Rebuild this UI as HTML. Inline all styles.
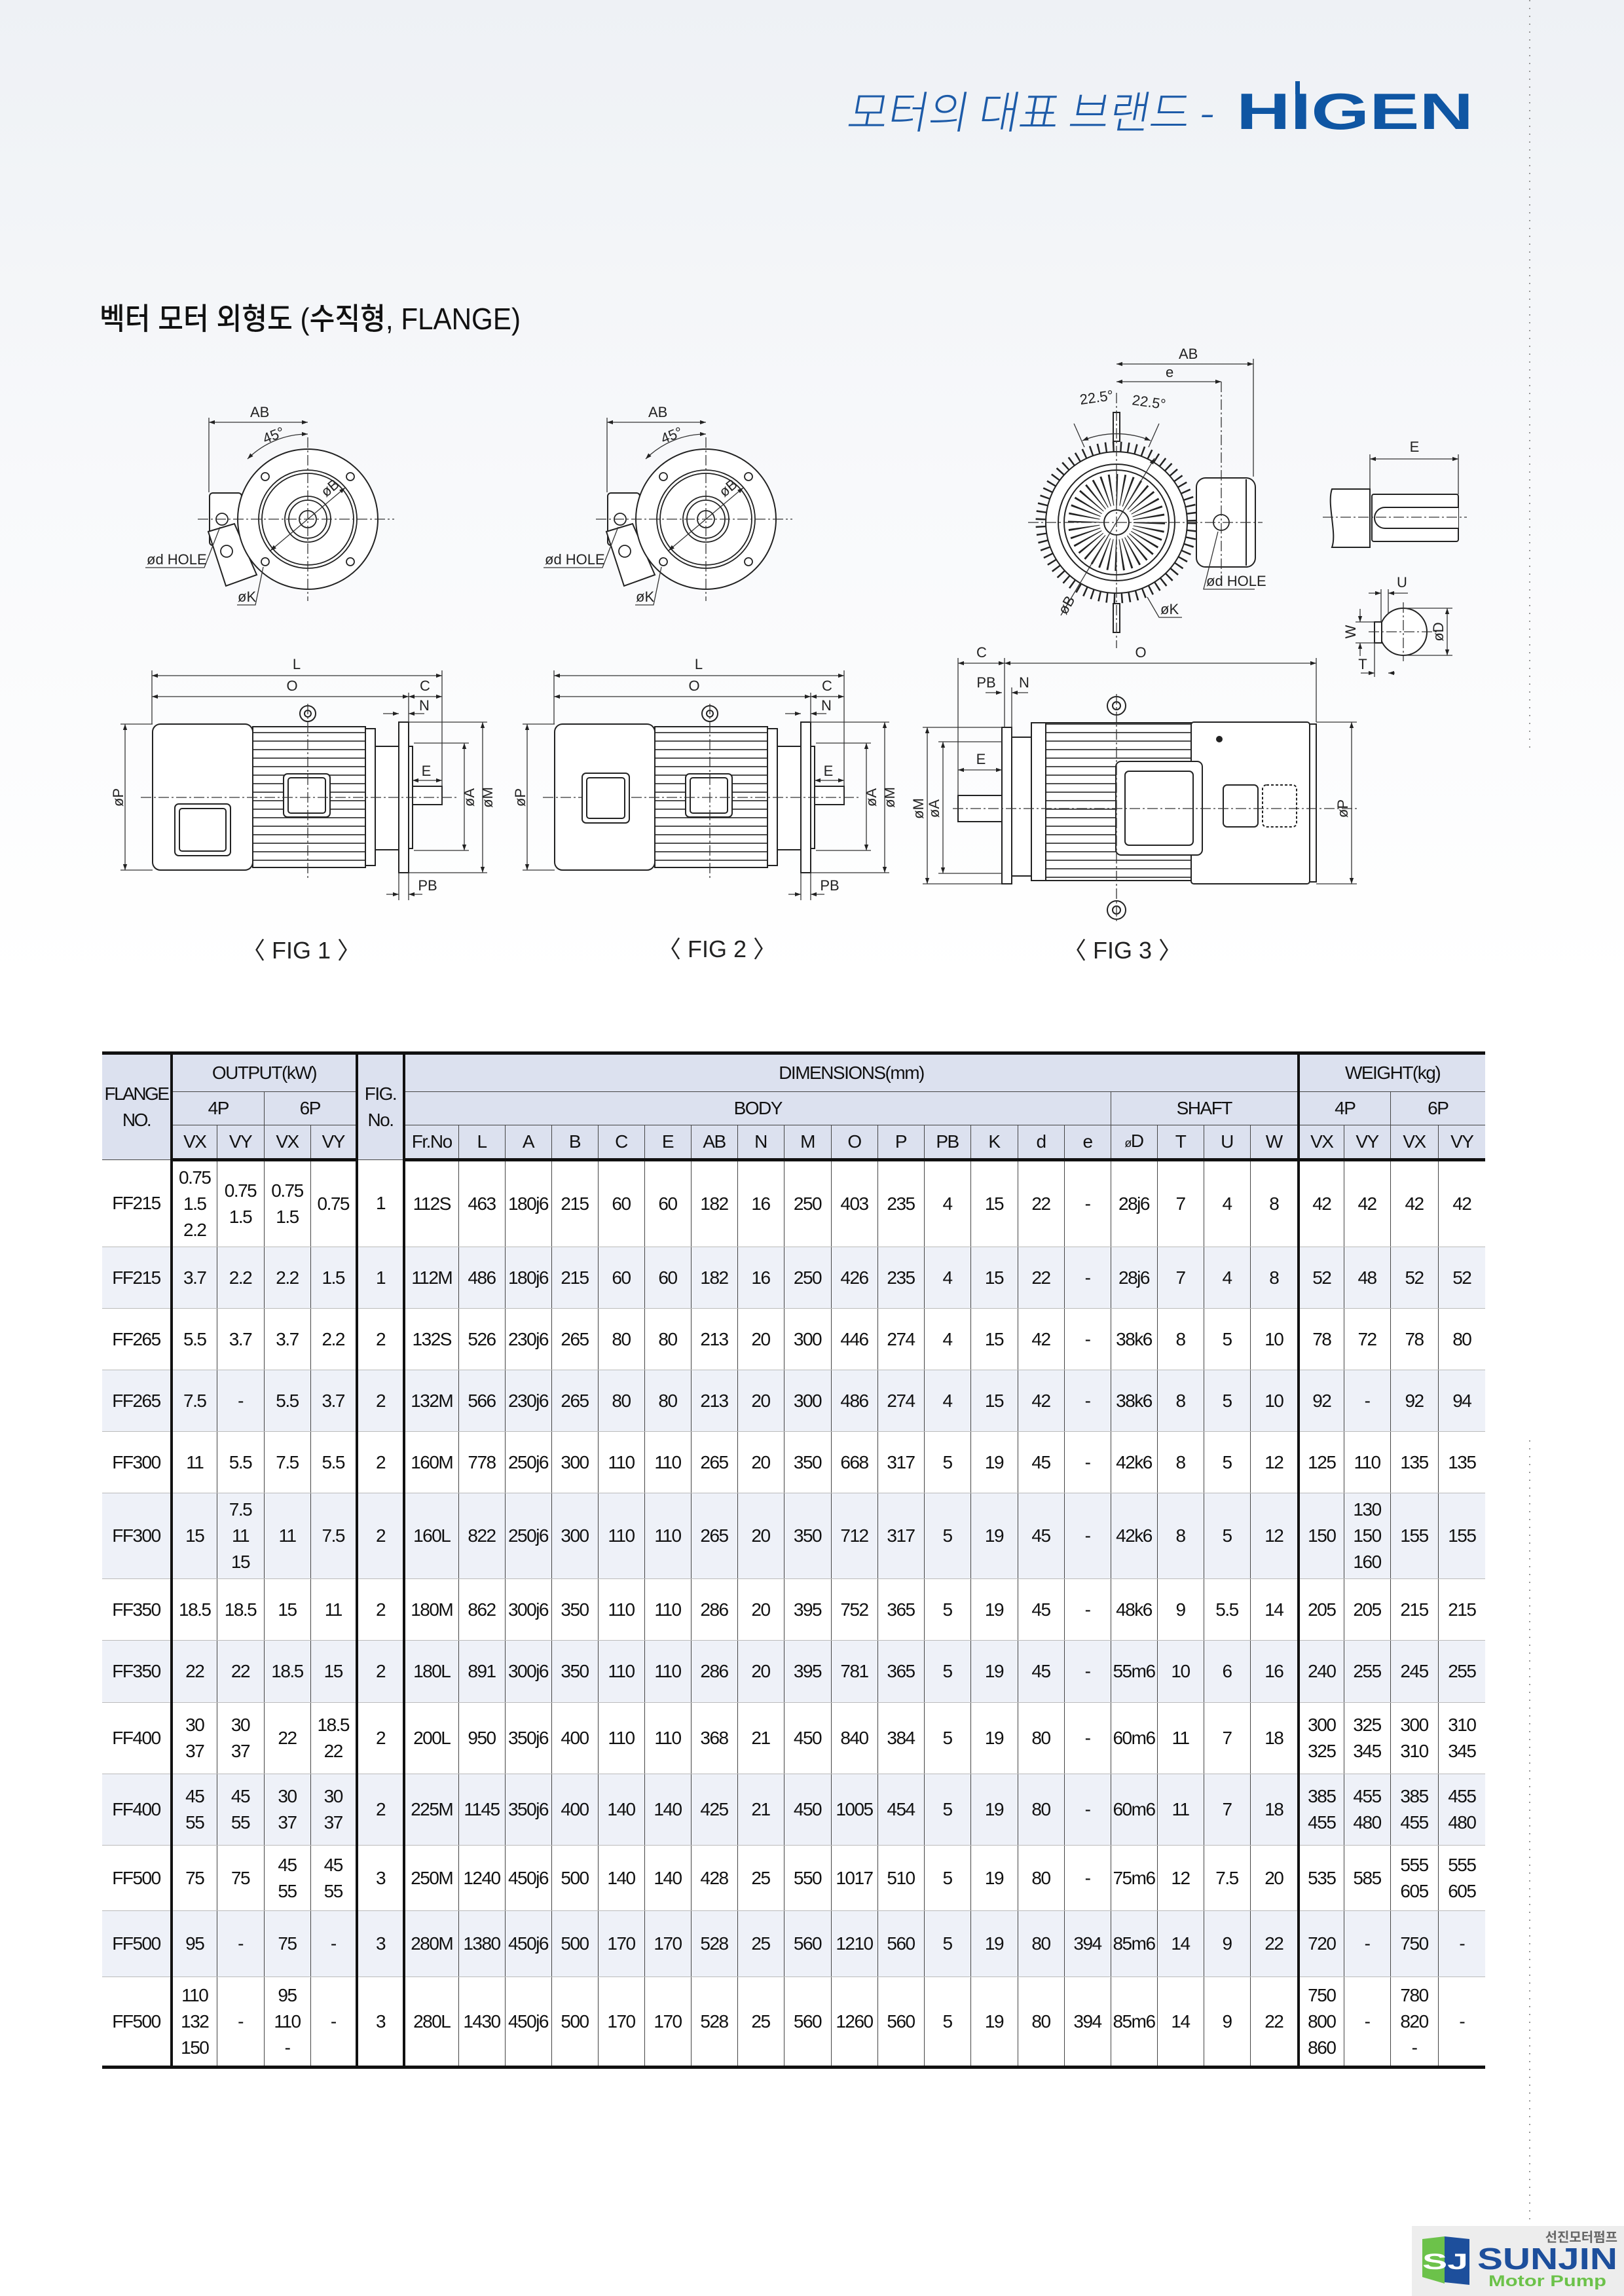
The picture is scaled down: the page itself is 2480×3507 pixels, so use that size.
<!DOCTYPE html>
<html><head><meta charset="utf-8">
<style>
html,body{margin:0;padding:0;background:#fff;}
body{width:2480px;height:3507px;position:relative;overflow:hidden;font-family:"Liberation Sans",sans-serif;}
svg{position:absolute;left:0;top:0;}
table.t{position:absolute;left:156px;top:1606px;width:2112px;border-collapse:collapse;table-layout:fixed;
font-family:"Liberation Sans Narrow","Liberation Sans",sans-serif;font-size:28px;letter-spacing:-1.5px;color:#111;text-align:center;}
.t td{border-left:1.5px solid #444;border-right:1.5px solid #444;border-top:1px solid #bbb;border-bottom:1px solid #bbb;padding:0;line-height:40px;vertical-align:middle;overflow:visible;white-space:nowrap;}
.t tr.h td{background:#dce1ef;border-top:1.5px solid #444;border-bottom:1.5px solid #444;}
.t tr.h1 td{border-top:5px solid #111;}
.t tr.h3 td,.t td.hb{border-bottom:5px solid #111;}
.t tr.last td{border-bottom:5px solid #111;}
.t tr.z td{background:#eef1f8;}
.t td.L{border-left:0;}
.t td.R{border-right:0;}
.t td.tk{border-right:4px solid #111;}
</style></head>
<body>
<svg width="2480" height="3507" viewBox="0 0 2480 3507" xmlns="http://www.w3.org/2000/svg">
<defs>
<linearGradient id="bg" x1="0" y1="0" x2="0" y2="1">
<stop offset="0" stop-color="#eef1f5"/><stop offset="0.5" stop-color="#f8f9fb"/><stop offset="1" stop-color="#ffffff"/>
</linearGradient>
<marker id="ar" viewBox="0 0 10 10" refX="10" refY="5" markerWidth="13" markerHeight="9" markerUnits="userSpaceOnUse" orient="auto-start-reverse"><path d="M0,1.5 L10,5 L0,8.5z" fill="#222"/></marker>
<pattern id="fins" width="10" height="13" patternUnits="userSpaceOnUse"><rect width="10" height="13" fill="#fff"/><line x1="0" y1="1" x2="10" y2="1" stroke="#222" stroke-width="1.6"/></pattern>
</defs>
<rect x="0" y="0" width="2480" height="1500" fill="url(#bg)"/>
<line x1="2336" y1="0" x2="2336" y2="1150" stroke="#999" stroke-width="2" stroke-dasharray="2 10"/>
<line x1="2336" y1="2200" x2="2336" y2="3420" stroke="#999" stroke-width="2" stroke-dasharray="2 10"/>

<!-- title -->
<text x="1292" y="196" font-family="'Noto Sans CJK KR',sans-serif" font-weight="300" font-size="68" fill="#1d5ba8" textLength="560" lengthAdjust="spacingAndGlyphs" transform="skewX(-10) translate(34,0)">모터의 대표 브랜드 -</text>
<text x="1888" y="197" font-family="'Liberation Sans',sans-serif" font-weight="bold" font-size="78" fill="#0f56a3" textLength="362" lengthAdjust="spacingAndGlyphs">HIGEN</text>
<rect x="1978" y="124" width="7" height="20" fill="#0f56a3"/>

<text x="152" y="503" font-family="'Liberation Sans','Noto Sans CJK KR',sans-serif" font-size="46" font-weight="500" fill="#111" textLength="643" lengthAdjust="spacingAndGlyphs">벡터 모터 외형도 (수직형, FLANGE)</text>

<g font-family="'Liberation Sans','Noto Sans CJK KR',sans-serif" font-size="36" fill="#222" text-anchor="middle">
<text x="460" y="1464">〈 FIG 1 〉</text>
<text x="1095" y="1462">〈 FIG 2 〉</text>
<text x="1714" y="1464">〈 FIG 3 〉</text>
</g>

<!-- ===== FIG1 END VIEW ===== -->
<g id="ev1">
<g stroke="#222" stroke-width="2" fill="#fff">
<rect x="320" y="753" width="49" height="80" rx="5"/>
<path d="M318,812 L358,800 L392,878 L345,895 Z"/>
<circle cx="470" cy="793" r="107"/>
</g>
<g stroke="#222" stroke-width="1.8" fill="none">
<circle cx="470" cy="793" r="75"/><circle cx="470" cy="793" r="70"/>
<circle cx="470" cy="793" r="35"/><circle cx="470" cy="793" r="29"/><circle cx="470" cy="793" r="13"/>
<circle cx="405" cy="728" r="6"/><circle cx="535" cy="728" r="6"/><circle cx="405" cy="858" r="6"/><circle cx="535" cy="858" r="6"/>
<circle cx="339" cy="793" r="9"/><circle cx="346" cy="842" r="9"/>
</g>
<g stroke="#333" stroke-width="1.3" fill="none" stroke-dasharray="16 4 3 4">
<line x1="302" y1="793" x2="602" y2="793"/><line x1="470" y1="668" x2="470" y2="918"/>
</g>
<g stroke="#333" stroke-width="1.3" fill="none">
<line x1="319" y1="645" x2="470" y2="645" marker-start="url(#ar)" marker-end="url(#ar)"/>
<line x1="319" y1="638" x2="319" y2="752"/>
<path d="M378,701 A130,130 0 0 1 470,663" marker-start="url(#ar)" marker-end="url(#ar)"/>
<line x1="413" y1="841" x2="527" y2="745" marker-start="url(#ar)" marker-end="url(#ar)"/>
<polyline points="222,867 312,867 336,805"/>
<polyline points="362,924 390,924 402,866"/>
</g>
</g>
<g font-family="'Liberation Sans',sans-serif" font-size="22" fill="#222">
<text x="382" y="637">AB</text>
<text x="405" y="678" transform="rotate(-22 405 678)">45°</text>
<text x="498" y="760" transform="rotate(-40 498 760)">øB</text>
<text x="224" y="862">ød HOLE</text>
<text x="363" y="919">øK</text>
</g>

<!-- ===== FIG2 END VIEW ===== -->
<use href="#ev1" x="608" y="0"/>
<g font-family="'Liberation Sans',sans-serif" font-size="22" fill="#222">
<text x="990" y="637">AB</text>
<text x="1013" y="678" transform="rotate(-22 1013 678)">45°</text>
<text x="1106" y="760" transform="rotate(-40 1106 760)">øB</text>
<text x="832" y="862">ød HOLE</text>
<text x="971" y="919">øK</text>
</g>

<!-- ===== FIG1 SIDE VIEW ===== -->
<g id="sv1">
<g stroke="#222" stroke-width="2" fill="#fff">
<rect x="233" y="1106" width="153" height="223" rx="12"/>
<rect x="386" y="1110" width="172" height="215" fill="url(#fins)"/>
<rect x="558" y="1113" width="15" height="209"/>
<rect x="573" y="1140" width="36" height="158"/>
<rect x="609" y="1103" width="15" height="230"/>
<rect x="624" y="1140" width="6" height="156"/>
<rect x="630" y="1201" width="45" height="28"/>
<rect x="433" y="1182" width="71" height="66" rx="6"/>
<rect x="440" y="1188" width="57" height="54" rx="4"/>
<circle cx="470" cy="1090" r="12"/><circle cx="470" cy="1090" r="5"/>
</g>
<g stroke="#333" stroke-width="1.3" fill="none" stroke-dasharray="16 4 3 4">
<line x1="215" y1="1218" x2="700" y2="1218"/><line x1="470" y1="1075" x2="470" y2="1345"/>
</g>
<g stroke="#333" stroke-width="1.3" fill="none">
<line x1="232" y1="1032" x2="675" y2="1032" marker-start="url(#ar)" marker-end="url(#ar)"/>
<line x1="232" y1="1064" x2="624" y2="1064" marker-start="url(#ar)" marker-end="url(#ar)"/>
<line x1="624" y1="1064" x2="675" y2="1064" marker-start="url(#ar)" marker-end="url(#ar)"/>
<line x1="232" y1="1024" x2="232" y2="1106"/><line x1="675" y1="1024" x2="675" y2="1229"/><line x1="624" y1="1058" x2="624" y2="1103"/>
<line x1="585" y1="1090" x2="609" y2="1090" marker-end="url(#ar)"/><line x1="648" y1="1090" x2="624" y2="1090" marker-end="url(#ar)"/>
<line x1="630" y1="1192" x2="675" y2="1192" marker-start="url(#ar)" marker-end="url(#ar)"/>
<line x1="590" y1="1366" x2="609" y2="1366" marker-end="url(#ar)"/><line x1="645" y1="1366" x2="624" y2="1366" marker-end="url(#ar)"/>
<line x1="609" y1="1333" x2="609" y2="1375"/><line x1="624" y1="1333" x2="624" y2="1375"/>
<line x1="191" y1="1106" x2="191" y2="1329" marker-start="url(#ar)" marker-end="url(#ar)"/>
<line x1="184" y1="1106" x2="233" y2="1106"/><line x1="184" y1="1329" x2="233" y2="1329"/>
<line x1="709" y1="1135" x2="709" y2="1299" marker-start="url(#ar)" marker-end="url(#ar)"/>
<line x1="632" y1="1135" x2="716" y2="1135"/><line x1="632" y1="1299" x2="716" y2="1299"/>
<line x1="737" y1="1103" x2="737" y2="1333" marker-start="url(#ar)" marker-end="url(#ar)"/>
<line x1="624" y1="1103" x2="744" y2="1103"/><line x1="624" y1="1333" x2="744" y2="1333"/>
</g>
</g>
<g stroke="#222" stroke-width="2" fill="#fff">
<rect x="267" y="1228" width="85" height="79" rx="6"/><rect x="274" y="1235" width="71" height="65" rx="4"/>
</g>
<g font-family="'Liberation Sans',sans-serif" font-size="22" fill="#222" text-anchor="middle">
<text x="453" y="1022">L</text><text x="446" y="1055">O</text><text x="649" y="1055">C</text>
<text x="648" y="1085">N</text><text x="651" y="1185">E</text><text x="653" y="1360">PB</text>
<text x="0" y="0" transform="translate(188,1218) rotate(-90)">øP</text>
<text x="0" y="0" transform="translate(724,1218) rotate(-90)">øA</text>
<text x="0" y="0" transform="translate(752,1218) rotate(-90)">øM</text>
</g>

<!-- ===== FIG2 SIDE VIEW ===== -->
<use href="#sv1" x="614" y="0"/>
<g stroke="#222" stroke-width="2" fill="#fff">
<rect x="889" y="1181" width="72" height="76" rx="6"/><rect x="896" y="1188" width="58" height="62" rx="4"/>
</g>
<g font-family="'Liberation Sans',sans-serif" font-size="22" fill="#222" text-anchor="middle">
<text x="1067" y="1022">L</text><text x="1060" y="1055">O</text><text x="1263" y="1055">C</text>
<text x="1262" y="1085">N</text><text x="1265" y="1185">E</text><text x="1267" y="1360">PB</text>
<text x="0" y="0" transform="translate(802,1218) rotate(-90)">øP</text>
<text x="0" y="0" transform="translate(1338,1218) rotate(-90)">øA</text>
<text x="0" y="0" transform="translate(1366,1218) rotate(-90)">øM</text>
</g>

<!-- ===== FIG3 END VIEW ===== -->
<g stroke="#222" fill="none">
<circle cx="1705" cy="798" r="116" stroke-width="15" stroke-dasharray="2.5 9"/>
<rect x="1700" y="630" width="10" height="44" fill="#fff" stroke-width="2"/>
<rect x="1700" y="922" width="10" height="44" fill="#fff" stroke-width="2"/>
<rect x="1827" y="730" width="90" height="136" rx="14" fill="#fff" stroke-width="2"/>
<line x1="1903" y1="732" x2="1903" y2="864" stroke-width="2"/>
<circle cx="1705" cy="798" r="108" fill="#fff" stroke-width="2"/>
<circle cx="1705" cy="798" r="89" stroke-width="2"/>
<circle cx="1705" cy="798" r="80" stroke-width="2"/>
<circle cx="1705" cy="798" r="50" stroke-width="48" stroke-dasharray="2 6.7"/>
<circle cx="1705" cy="798" r="19" fill="#fff" stroke-width="2"/>
<circle cx="1865" cy="798" r="12" stroke-width="1.8"/>
</g>
<g stroke="#333" stroke-width="1.3" fill="none" stroke-dasharray="16 4 3 4">
<line x1="1570" y1="798" x2="1928" y2="798"/><line x1="1705" y1="600" x2="1705" y2="990"/>
<line x1="1865" y1="583" x2="1865" y2="893"/>
</g>
<g stroke="#333" stroke-width="1.3" fill="none">
<line x1="1705" y1="556" x2="1914" y2="556" marker-start="url(#ar)" marker-end="url(#ar)"/>
<line x1="1705" y1="583" x2="1865" y2="583" marker-start="url(#ar)" marker-end="url(#ar)"/>
<line x1="1914" y1="548" x2="1914" y2="728"/>
<path d="M1653,673 A135,135 0 0 1 1757,673" marker-start="url(#ar)" marker-end="url(#ar)"/>
<line x1="1640" y1="647" x2="1656" y2="683"/><line x1="1770" y1="647" x2="1754" y2="683"/>
<line x1="1620" y1="940" x2="1763" y2="700" marker-end="url(#ar)"/>
<polyline points="1916,900 1838,900 1860,812"/>
<polyline points="1805,943 1770,943 1752,912"/>
</g>
<g font-family="'Liberation Sans',sans-serif" font-size="22" fill="#222">
<text x="1800" y="548">AB</text><text x="1780" y="576">e</text>
<text x="1650" y="618" transform="rotate(-8 1650 618)">22.5°</text>
<text x="1728" y="618" transform="rotate(8 1728 618)">22.5°</text>
<text x="1842" y="895">ød HOLE</text><text x="1772" y="938">øK</text>
<text x="0" y="0" transform="translate(1628,940) rotate(-60)">øB</text>
</g>

<!-- shaft detail -->
<g stroke="#222" stroke-width="2" fill="#fff">
<path d="M2034,747 L2092,747 L2092,836 L2034,836 C2042,815 2026,770 2034,747 Z"/>
<rect x="2095" y="755" width="132" height="72" rx="3"/>
<path d="M2227,775 L2115,775 A16,16 0 0 0 2115,807 L2227,807"/>
<circle cx="2143" cy="965" r="36"/>
<rect x="2099" y="950" width="11" height="32"/>
</g>
<g stroke="#333" stroke-width="1.3" fill="none" stroke-dasharray="16 4 3 4">
<line x1="2020" y1="790" x2="2240" y2="790"/>
<line x1="2090" y1="965" x2="2195" y2="965"/><line x1="2143" y1="920" x2="2143" y2="1010"/>
</g>
<g stroke="#333" stroke-width="1.3" fill="none">
<line x1="2092" y1="701" x2="2227" y2="701" marker-start="url(#ar)" marker-end="url(#ar)"/>
<line x1="2092" y1="694" x2="2092" y2="747"/><line x1="2227" y1="694" x2="2227" y2="755"/>
<line x1="2210" y1="929" x2="2210" y2="1001" marker-start="url(#ar)" marker-end="url(#ar)"/>
<line x1="2143" y1="929" x2="2218" y2="929"/><line x1="2143" y1="1001" x2="2218" y2="1001"/>
<line x1="2090" y1="906" x2="2109" y2="906" marker-end="url(#ar)"/><line x1="2150" y1="906" x2="2120" y2="906" marker-end="url(#ar)"/>
<line x1="2109" y1="900" x2="2109" y2="950"/><line x1="2120" y1="900" x2="2120" y2="938"/>
<line x1="2077" y1="930" x2="2077" y2="950" marker-end="url(#ar)"/><line x1="2077" y1="1002" x2="2077" y2="982" marker-end="url(#ar)"/>
<line x1="2070" y1="950" x2="2099" y2="950"/><line x1="2070" y1="982" x2="2099" y2="982"/>
<line x1="2078" y1="1028" x2="2099" y2="1028" marker-end="url(#ar)"/><line x1="2130" y1="1028" x2="2120" y2="1028" marker-end="url(#ar)"/>
<line x1="2099" y1="982" x2="2099" y2="1034"/>
</g>
<g font-family="'Liberation Sans',sans-serif" font-size="22" fill="#222" text-anchor="middle">
<text x="2160" y="690">E</text><text x="2141" y="897">U</text><text x="2081" y="1022">T</text>
<text x="0" y="0" transform="translate(2070,965) rotate(-90)">W</text>
<text x="0" y="0" transform="translate(2204,965) rotate(-90)">øD</text>
</g>

<!-- ===== FIG3 SIDE VIEW ===== -->
<g stroke="#222" stroke-width="2" fill="#fff">
<circle cx="1705" cy="1078" r="14"/><circle cx="1705" cy="1078" r="6"/>
<circle cx="1705" cy="1390" r="14"/><circle cx="1705" cy="1390" r="6"/>
<rect x="1530" y="1111" width="15" height="239"/>
<rect x="1545" y="1126" width="30" height="212"/>
<rect x="1575" y="1104" width="22" height="241"/>
<rect x="1597" y="1104" width="222" height="241" fill="url(#fins)"/>
<rect x="1819" y="1103" width="181" height="247" rx="4"/>
<rect x="2000" y="1106" width="10" height="241"/>
<rect x="1463" y="1215" width="67" height="40"/>
<rect x="1704" y="1163" width="132" height="143" rx="8"/>
<rect x="1718" y="1178" width="104" height="113" rx="6"/>
<rect x="1868" y="1199" width="53" height="64" rx="6"/>
<rect x="1928" y="1199" width="52" height="64" rx="6" stroke-dasharray="4 3"/>
<circle cx="1862" cy="1129" r="4" fill="#222"/>
</g>
<g stroke="#333" stroke-width="1.3" fill="none" stroke-dasharray="16 4 3 4">
<line x1="1455" y1="1235" x2="2075" y2="1235"/><line x1="1705" y1="1060" x2="1705" y2="1410"/>
</g>
<g stroke="#333" stroke-width="1.3" fill="none">
<line x1="1463" y1="1013" x2="1534" y2="1013" marker-start="url(#ar)" marker-end="url(#ar)"/>
<line x1="1534" y1="1013" x2="2010" y2="1013" marker-start="url(#ar)" marker-end="url(#ar)"/>
<line x1="1463" y1="1005" x2="1463" y2="1215"/><line x1="1534" y1="1005" x2="1534" y2="1111"/><line x1="2010" y1="1005" x2="2010" y2="1103"/>
<line x1="1505" y1="1058" x2="1530" y2="1058" marker-end="url(#ar)"/><line x1="1570" y1="1058" x2="1545" y2="1058" marker-end="url(#ar)"/>
<line x1="1545" y1="1050" x2="1545" y2="1126"/>
<line x1="1463" y1="1176" x2="1530" y2="1176" marker-start="url(#ar)" marker-end="url(#ar)"/>
<line x1="1416" y1="1111" x2="1416" y2="1350" marker-start="url(#ar)" marker-end="url(#ar)"/>
<line x1="1409" y1="1111" x2="1530" y2="1111"/><line x1="1409" y1="1350" x2="1530" y2="1350"/>
<line x1="1440" y1="1133" x2="1440" y2="1334" marker-start="url(#ar)" marker-end="url(#ar)"/>
<line x1="1433" y1="1133" x2="1530" y2="1133"/><line x1="1433" y1="1334" x2="1530" y2="1334"/>
<line x1="2064" y1="1103" x2="2064" y2="1350" marker-start="url(#ar)" marker-end="url(#ar)"/>
<line x1="2010" y1="1103" x2="2072" y2="1103"/><line x1="2010" y1="1350" x2="2072" y2="1350"/>
</g>
<g font-family="'Liberation Sans',sans-serif" font-size="22" fill="#222" text-anchor="middle">
<text x="1499" y="1004">C</text><text x="1742" y="1004">O</text>
<text x="1506" y="1050">PB</text><text x="1564" y="1050">N</text><text x="1498" y="1167">E</text>
<text x="0" y="0" transform="translate(1410,1235) rotate(-90)">øM</text>
<text x="0" y="0" transform="translate(1434,1235) rotate(-90)">øA</text>
<text x="0" y="0" transform="translate(2058,1235) rotate(-90)">øP</text>
</g>

<!-- SUNJIN logo -->
<rect x="2156" y="3400" width="324" height="107" fill="#ededed"/>
<path d="M2172,3420 L2206,3416 L2206,3488 L2172,3478 Z" fill="#6cc24a"/>
<path d="M2206,3416 L2244,3420 L2244,3490 L2206,3486 Z" fill="#1d4f9c"/>
<text x="2172" y="3466" font-family="'Liberation Sans',sans-serif" font-weight="bold" font-size="34" fill="#fff" textLength="70" lengthAdjust="spacingAndGlyphs">SJ</text>
<text x="2470" y="3424" text-anchor="end" font-family="'Noto Sans CJK KR',sans-serif" font-weight="bold" font-size="20" fill="#666">선진모터펌프</text>
<text x="2256" y="3466" font-family="'Liberation Sans',sans-serif" font-weight="bold" font-size="46" fill="#1d4f9c" textLength="214" lengthAdjust="spacingAndGlyphs">SUNJIN</text>
<text x="2273" y="3492" font-family="'Liberation Sans',sans-serif" font-weight="bold" font-size="24" fill="#6cc24a" textLength="180" lengthAdjust="spacingAndGlyphs">Motor Pump</text>
</svg>

<table class="t">
<colgroup>
<col style="width:106px"><col style="width:69px"><col style="width:72px"><col style="width:71px"><col style="width:71px">
<col style="width:72px">
<col style="width:83px"><col style="width:71px"><col style="width:71px"><col style="width:71px"><col style="width:71px"><col style="width:71px"><col style="width:71px"><col style="width:71px"><col style="width:72px"><col style="width:71px"><col style="width:71px"><col style="width:71px"><col style="width:72px"><col style="width:71px"><col style="width:71px">
<col style="width:71px"><col style="width:71px"><col style="width:71px"><col style="width:74px">
<col style="width:69px"><col style="width:71px"><col style="width:73px"><col style="width:72px">
</colgroup>
<tr class="h h1" style="height:59px">
<td class="L tk hb" rowspan="3" style="letter-spacing:-2.5px">FLANGE<br>NO.</td>
<td colspan="4" class="tk">OUTPUT(kW)</td>
<td rowspan="3" class="tk hb">FIG.<br>No.</td>
<td colspan="19" class="tk">DIMENSIONS(mm)</td>
<td colspan="4" class="R">WEIGHT(kg)</td>
</tr>
<tr class="h" style="height:51px">
<td colspan="2">4P</td><td colspan="2" class="tk">6P</td>
<td colspan="15">BODY</td><td colspan="4" class="tk">SHAFT</td>
<td colspan="2">4P</td><td colspan="2" class="R">6P</td>
</tr>
<tr class="h h3" style="height:53px">
<td>VX</td><td>VY</td><td>VX</td><td class="tk">VY</td>
<td>Fr.No</td><td>L</td><td>A</td><td>B</td><td>C</td><td>E</td><td>AB</td><td>N</td><td>M</td><td>O</td><td>P</td><td>PB</td><td>K</td><td>d</td><td>e</td>
<td><small style="font-size:18px">ø</small>D</td><td>T</td><td>U</td><td class="tk">W</td>
<td>VX</td><td>VY</td><td>VX</td><td class="R">VY</td>
</tr>
<tr style="height:133px"><td class="L tk">FF215</td><td>0.75<br>1.5<br>2.2</td><td>0.75<br>1.5</td><td>0.75<br>1.5</td><td class="tk">0.75</td><td class="tk">1</td><td>112S</td><td>463</td><td>180j6</td><td>215</td><td>60</td><td>60</td><td>182</td><td>16</td><td>250</td><td>403</td><td>235</td><td>4</td><td>15</td><td>22</td><td>-</td><td>28j6</td><td>7</td><td>4</td><td class="tk">8</td><td>42</td><td>42</td><td>42</td><td class="R">42</td></tr>
<tr class="z" style="height:94px"><td class="L tk">FF215</td><td>3.7</td><td>2.2</td><td>2.2</td><td class="tk">1.5</td><td class="tk">1</td><td>112M</td><td>486</td><td>180j6</td><td>215</td><td>60</td><td>60</td><td>182</td><td>16</td><td>250</td><td>426</td><td>235</td><td>4</td><td>15</td><td>22</td><td>-</td><td>28j6</td><td>7</td><td>4</td><td class="tk">8</td><td>52</td><td>48</td><td>52</td><td class="R">52</td></tr>
<tr style="height:94px"><td class="L tk">FF265</td><td>5.5</td><td>3.7</td><td>3.7</td><td class="tk">2.2</td><td class="tk">2</td><td>132S</td><td>526</td><td>230j6</td><td>265</td><td>80</td><td>80</td><td>213</td><td>20</td><td>300</td><td>446</td><td>274</td><td>4</td><td>15</td><td>42</td><td>-</td><td>38k6</td><td>8</td><td>5</td><td class="tk">10</td><td>78</td><td>72</td><td>78</td><td class="R">80</td></tr>
<tr class="z" style="height:94px"><td class="L tk">FF265</td><td>7.5</td><td>-</td><td>5.5</td><td class="tk">3.7</td><td class="tk">2</td><td>132M</td><td>566</td><td>230j6</td><td>265</td><td>80</td><td>80</td><td>213</td><td>20</td><td>300</td><td>486</td><td>274</td><td>4</td><td>15</td><td>42</td><td>-</td><td>38k6</td><td>8</td><td>5</td><td class="tk">10</td><td>92</td><td>-</td><td>92</td><td class="R">94</td></tr>
<tr style="height:94px"><td class="L tk">FF300</td><td>11</td><td>5.5</td><td>7.5</td><td class="tk">5.5</td><td class="tk">2</td><td>160M</td><td>778</td><td>250j6</td><td>300</td><td>110</td><td>110</td><td>265</td><td>20</td><td>350</td><td>668</td><td>317</td><td>5</td><td>19</td><td>45</td><td>-</td><td>42k6</td><td>8</td><td>5</td><td class="tk">12</td><td>125</td><td>110</td><td>135</td><td class="R">135</td></tr>
<tr class="z" style="height:131px"><td class="L tk">FF300</td><td>15</td><td>7.5<br>11<br>15</td><td>11</td><td class="tk">7.5</td><td class="tk">2</td><td>160L</td><td>822</td><td>250j6</td><td>300</td><td>110</td><td>110</td><td>265</td><td>20</td><td>350</td><td>712</td><td>317</td><td>5</td><td>19</td><td>45</td><td>-</td><td>42k6</td><td>8</td><td>5</td><td class="tk">12</td><td>150</td><td>130<br>150<br>160</td><td>155</td><td class="R">155</td></tr>
<tr style="height:94px"><td class="L tk">FF350</td><td>18.5</td><td>18.5</td><td>15</td><td class="tk">11</td><td class="tk">2</td><td>180M</td><td>862</td><td>300j6</td><td>350</td><td>110</td><td>110</td><td>286</td><td>20</td><td>395</td><td>752</td><td>365</td><td>5</td><td>19</td><td>45</td><td>-</td><td>48k6</td><td>9</td><td>5.5</td><td class="tk">14</td><td>205</td><td>205</td><td>215</td><td class="R">215</td></tr>
<tr class="z" style="height:95px"><td class="L tk">FF350</td><td>22</td><td>22</td><td>18.5</td><td class="tk">15</td><td class="tk">2</td><td>180L</td><td>891</td><td>300j6</td><td>350</td><td>110</td><td>110</td><td>286</td><td>20</td><td>395</td><td>781</td><td>365</td><td>5</td><td>19</td><td>45</td><td>-</td><td>55m6</td><td>10</td><td>6</td><td class="tk">16</td><td>240</td><td>255</td><td>245</td><td class="R">255</td></tr>
<tr style="height:109px"><td class="L tk">FF400</td><td>30<br>37</td><td>30<br>37</td><td>22</td><td class="tk">18.5<br>22</td><td class="tk">2</td><td>200L</td><td>950</td><td>350j6</td><td>400</td><td>110</td><td>110</td><td>368</td><td>21</td><td>450</td><td>840</td><td>384</td><td>5</td><td>19</td><td>80</td><td>-</td><td>60m6</td><td>11</td><td>7</td><td class="tk">18</td><td>300<br>325</td><td>325<br>345</td><td>300<br>310</td><td class="R">310<br>345</td></tr>
<tr class="z" style="height:109px"><td class="L tk">FF400</td><td>45<br>55</td><td>45<br>55</td><td>30<br>37</td><td class="tk">30<br>37</td><td class="tk">2</td><td>225M</td><td>1145</td><td>350j6</td><td>400</td><td>140</td><td>140</td><td>425</td><td>21</td><td>450</td><td>1005</td><td>454</td><td>5</td><td>19</td><td>80</td><td>-</td><td>60m6</td><td>11</td><td>7</td><td class="tk">18</td><td>385<br>455</td><td>455<br>480</td><td>385<br>455</td><td class="R">455<br>480</td></tr>
<tr style="height:100px"><td class="L tk">FF500</td><td>75</td><td>75</td><td>45<br>55</td><td class="tk">45<br>55</td><td class="tk">3</td><td>250M</td><td>1240</td><td>450j6</td><td>500</td><td>140</td><td>140</td><td>428</td><td>25</td><td>550</td><td>1017</td><td>510</td><td>5</td><td>19</td><td>80</td><td>-</td><td>75m6</td><td>12</td><td>7.5</td><td class="tk">20</td><td>535</td><td>585</td><td>555<br>605</td><td class="R">555<br>605</td></tr>
<tr class="z" style="height:101px"><td class="L tk">FF500</td><td>95</td><td>-</td><td>75</td><td class="tk">-</td><td class="tk">3</td><td>280M</td><td>1380</td><td>450j6</td><td>500</td><td>170</td><td>170</td><td>528</td><td>25</td><td>560</td><td>1210</td><td>560</td><td>5</td><td>19</td><td>80</td><td>394</td><td>85m6</td><td>14</td><td>9</td><td class="tk">22</td><td>720</td><td>-</td><td>750</td><td class="R">-</td></tr>
<tr class="last" style="height:138px"><td class="L tk">FF500</td><td>110<br>132<br>150</td><td>-</td><td>95<br>110<br>-</td><td class="tk">-</td><td class="tk">3</td><td>280L</td><td>1430</td><td>450j6</td><td>500</td><td>170</td><td>170</td><td>528</td><td>25</td><td>560</td><td>1260</td><td>560</td><td>5</td><td>19</td><td>80</td><td>394</td><td>85m6</td><td>14</td><td>9</td><td class="tk">22</td><td>750<br>800<br>860</td><td>-</td><td>780<br>820<br>-</td><td class="R">-</td></tr>
</table>
</body></html>
